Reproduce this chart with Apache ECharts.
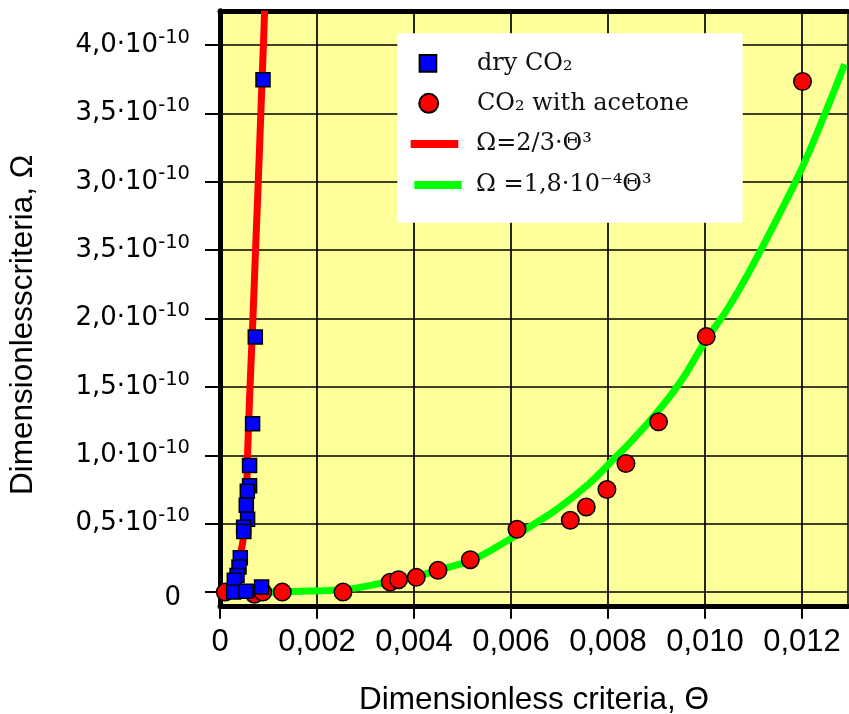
<!DOCTYPE html>
<html>
<head>
<meta charset="utf-8">
<script src="https://cdn.jsdelivr.net/npm/echarts@6/dist/echarts.min.js"></script>
<style>html,body{margin:0;padding:0;background:#fff}#c{width:849px;height:714px}</style>
</head>
<body>
<div id="c"></div>
<script>
// ---- axis ticks ----
const xTickValues = [0, 0.002, 0.004, 0.006, 0.008, 0.010, 0.012];
const xTickLabels = ['0', '0,002', '0,004', '0,006', '0,008', '0,010', '0,012'];
const yTickValues = [0, 0.5, 1.0, 1.5, 2.0, 2.5, 3.0, 3.5, 4.0];           // units of 1e-10
const yTickMantissas = ['0', '0,5·10', '1,0·10', '1,5·10', '2,0·10', '3,5·10', '3,0·10', '3,5·10', '4,0·10'];
const yTickExponents = ['', '-10', '-10', '-10', '-10', '-10', '-10', '-10', '-10'];

// ---- series names ----
const nameDry = 'dry CO₂';
const nameAcetone = 'CO₂ with acetone';
const nameRed = 'Ω=2/3·Θ³';
const nameGreen = 'Ω =1,8·10⁻⁴Θ³';

// ---- dry CO2 (blue squares), Omega in units of 1e-10 ----
const dryTheta = [0.000887, 0.000728, 0.000672, 0.000610, 0.000610, 0.000563, 0.000542, 0.000569, 0.000487, 0.000491, 0.000419, 0.000392, 0.000351, 0.000295, 0.000280, 0.000538, 0.000858];
const dryOmega = [3.745, 1.865, 1.231, 0.925, 0.777, 0.737, 0.635, 0.532, 0.474, 0.444, 0.252, 0.183, 0.122, 0.086, 0.0, 0.007, 0.037];

// ---- CO2 with acetone (red circles) ----
const acetoneTheta = [0.00011, 0.00071, 0.000882, 0.001285, 0.002536, 0.003511, 0.003682, 0.004047, 0.004495, 0.005161, 0.006124, 0.007223, 0.007553, 0.007979, 0.008371, 0.009043, 0.010027, 0.012012];
const acetoneOmega = [0.0, -0.015, 0.0, 0.0, 0.0, 0.073, 0.091, 0.108, 0.159, 0.237, 0.459, 0.525, 0.622, 0.750, 0.940, 1.245, 1.868, 3.733];

// ---- red fitted line ----
const redTheta = [0, 0.000171, 0.000274, 0.000357, 0.000419, 0.000474, 0.000511, 0.000548, 0.000569, 0.000619, 0.000680, 0.000734, 0.000790, 0.000845, 0.000899, 0.000920];
const redOmega = [0, 0.042, 0.100, 0.184, 0.278, 0.378, 0.525, 0.745, 1.015, 1.50, 2.01, 2.51, 3.01, 3.53, 4.04, 4.25];

// ---- green fitted line ----
const greenTheta = [0.0008, 0.0015, 0.0025, 0.0035, 0.0041, 0.0048, 0.0052, 0.0058, 0.0064, 0.0070, 0.0076, 0.0080, 0.0085, 0.0090, 0.0095, 0.0100, 0.0105, 0.0110, 0.0115, 0.0120, 0.0125, 0.01288];
const greenOmega = [0.0, 0.005, 0.018, 0.078, 0.12, 0.19, 0.235, 0.35, 0.48, 0.62, 0.79, 0.93, 1.11, 1.31, 1.54, 1.83, 2.09, 2.40, 2.74, 3.10, 3.52, 3.86];

const pairs = (xs, ys) => xs.map((x, i) => [x, ys[i]]);
const findIdx = (arr, v) => arr.findIndex(t => Math.abs(t - v) < 1e-9);

const chart = echarts.init(document.getElementById('c'), null, {renderer: 'canvas'});

const legendText = {fontFamily: 'DejaVu Serif', fontSize: 24, color: '#111'};
const withPad = p => Object.assign({}, legendText, {padding: p});

const option = {
  animation: false,
  backgroundColor: '#fff',
  grid: {left: 220, right: 1, top: 10.8, bottom: 108.2, outerBoundsMode: 'none', containLabel: false,
         show: true, backgroundColor: '#FFFF99', borderColor: '#000', borderWidth: 1.5},
  xAxis: [{
    type: 'value', min: 0, max: 0.01295, position: 'bottom',
    axisLine: {show: true, onZero: false, lineStyle: {color: '#000', width: 5}},
    axisTick: {show: true, inside: false, length: 13, customValues: xTickValues, lineStyle: {color: '#000', width: 2}},
    axisLabel: {
      customValues: xTickValues, margin: 21, fontSize: 31, fontFamily: 'Liberation Sans', color: '#000',
      formatter: v => xTickLabels[findIdx(xTickValues, v)]
    },
    splitLine: {show: true, lineStyle: {color: '#000', width: 1.7}},
    name: 'Dimensionless criteria, Θ', nameLocation: 'middle', nameGap: 79,
    nameTextStyle: {fontFamily: 'Liberation Sans', fontSize: 31.5, color: '#000'}
  }, {
    type: 'value', min: 0, max: 0.01295, position: 'top',
    axisLine: {show: true, onZero: false, lineStyle: {color: '#000', width: 5}},
    axisTick: {show: false}, axisLabel: {show: false}, splitLine: {show: false}
  }],
  yAxis: {
    type: 'value', min: -0.1, max: 4.25,
    axisLine: {show: true, onZero: false, lineStyle: {color: '#000', width: 5}},
    axisTick: {show: true, inside: false, length: 15, customValues: yTickValues, lineStyle: {color: '#000', width: 2}},
    axisLabel: {
      customValues: yTickValues, margin: 30,
      formatter: v => {
        const i = findIdx(yTickValues, v);
        if (!yTickExponents[i]) return '{e| }\n{z|' + yTickMantissas[i] + '}';
        return '{m|' + yTickMantissas[i] + '}{s|' + yTickExponents[i] + '}';
      },
      rich: {
        m: {fontFamily: 'DejaVu Sans', fontSize: 26, lineHeight: 35, color: '#000'},
        s: {fontFamily: 'DejaVu Sans', fontSize: 19.5, lineHeight: 19, verticalAlign: 'top', color: '#000'},
        e: {fontFamily: 'DejaVu Sans', fontSize: 4, lineHeight: 12},
        z: {fontFamily: 'DejaVu Sans', fontSize: 26, lineHeight: 26, padding: [0, 9, 0, 0], color: '#000'}
      }
    },
    splitLine: {show: true, lineStyle: {color: '#000', width: 1.7}},
    name: 'Dimensionlesscriteria, Ω', nameLocation: 'middle', nameGap: 181,
    nameTextStyle: {fontFamily: 'Liberation Sans', fontSize: 31.5, color: '#000', padding: [0, 33, 0, 0]}
  },
  graphic: {
    elements: [{type: 'rect', z: 5, shape: {x: 397.3, y: 33.3, width: 345.4, height: 189.4}, style: {fill: '#fff'}}]
  },
  legend: [
    {data: [{name: nameDry, icon: 'rect'}], left: 418.6, top: 51.3, padding: 0, itemWidth: 16.7, itemHeight: 16.7, z: 10, selectedMode: false,
     textStyle: withPad([0, 0, 0, 35.6])},
    {data: [{name: nameAcetone, icon: 'circle'}], left: 418.2, top: 91.3, padding: 0, itemWidth: 19, itemHeight: 19, z: 10, selectedMode: false,
     textStyle: withPad([0, 0, 10, 33.8])},
    {data: [{name: nameRed, icon: 'rect'}], left: 410.7, top: 132, padding: 0, itemWidth: 47.6, itemHeight: 8, symbolKeepAspect: false, z: 10, selectedMode: false,
     itemStyle: {borderWidth: 0}, textStyle: withPad([0, 0, 13, 13])},
    {data: [{name: nameGreen, icon: 'rect'}], left: 414.3, top: 173, padding: 0, itemWidth: 47.4, itemHeight: 8, symbolKeepAspect: false, z: 10, selectedMode: false,
     itemStyle: {borderWidth: 0}, textStyle: withPad([0, 0, 8, 9.3])}
  ],
  series: [
    {type: 'line', name: nameGreen, data: pairs(greenTheta, greenOmega), smooth: true, symbol: 'none', z: 2,
     lineStyle: {color: '#00FF00', width: 7}, itemStyle: {color: '#00FF00'}},
    {type: 'line', name: nameRed, data: pairs(redTheta, redOmega), smooth: true, symbol: 'none', z: 2,
     lineStyle: {color: '#FF0000', width: 7}, itemStyle: {color: '#FF0000'}},
    {type: 'scatter', name: nameAcetone, data: pairs(acetoneTheta, acetoneOmega), symbol: 'circle', symbolSize: 17.5, z: 3,
     itemStyle: {color: '#FF0000', borderColor: '#000', borderWidth: 1.5, opacity: 1}},
    {type: 'scatter', name: nameDry, data: pairs(dryTheta, dryOmega), symbol: 'rect', symbolSize: 14, z: 4,
     itemStyle: {color: '#0000FF', borderColor: '#000', borderWidth: 1.5, opacity: 1}}
  ]
};
chart.setOption(option);
</script>
</body>
</html>
